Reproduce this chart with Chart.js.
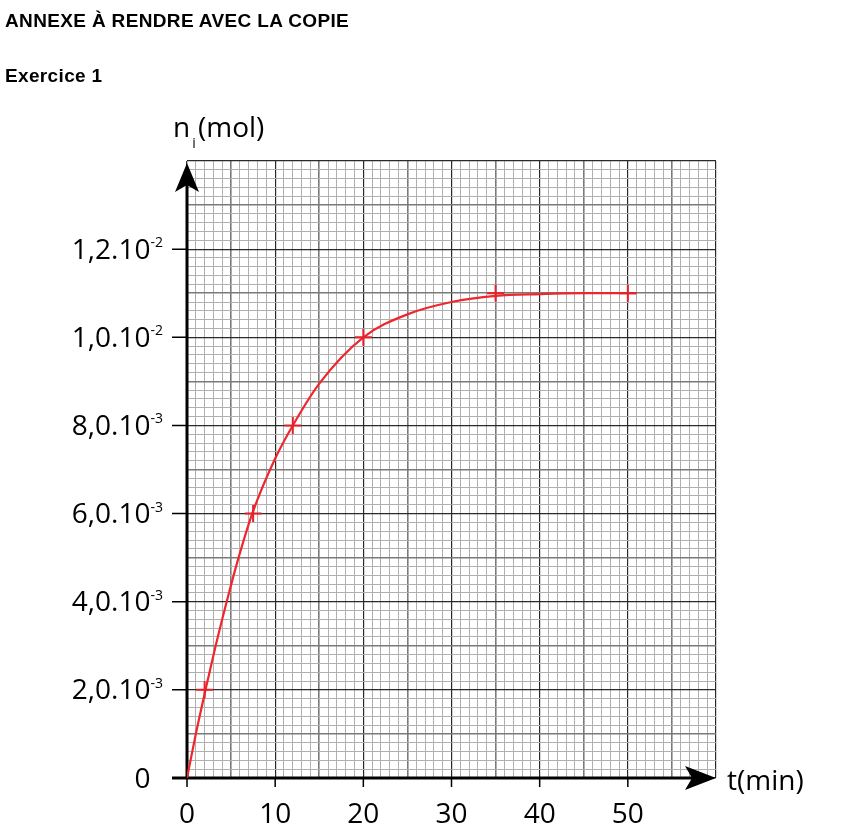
<!DOCTYPE html>
<html lang="fr">
<head>
<meta charset="utf-8">
<title>Annexe - Exercice 1</title>
<script src="https://cdn.jsdelivr.net/npm/chart.js@4.4.1/dist/chart.umd.min.js"></script>
<style>
  html, body { margin: 0; padding: 0; background: #fff; }
  #page { position: relative; width: 848px; height: 838px; overflow: hidden; background: #fff; }
  canvas { position: absolute; left: 0; top: 0; }
  .titre {
    position: absolute; left: 5px; color: #000; white-space: nowrap;
    font-family: "Liberation Sans", Arial, sans-serif; font-weight: bold;
    font-size: 19px; line-height: 19px; letter-spacing: 0.35px;
  }
</style>
</head>
<body>
<div id="page">
  <canvas id="graphe" width="848" height="838"></canvas>
  <div class="titre" style="top:11px">ANNEXE À RENDRE AVEC LA COPIE</div>
  <div class="titre" style="top:66px">Exercice 1</div>
</div>
<script>
// Points de mesure (les croix)
const tMesures = [2, 7.5, 12, 20, 35, 50];
const nMesures = [0.002, 0.006, 0.008, 0.010, 0.011, 0.011];

// Courbe tracée à la main
const tCourbe = [0, 1.0, 2.1, 3.25, 4.5, 5.85, 7.4, 10, 12, 15, 20, 25, 30, 35, 40, 45, 51];
const nCourbe = [0, 0.0010, 0.0020, 0.0030, 0.0040, 0.0050, 0.0060, 0.00725, 0.0080, 0.00895,
                 0.0100, 0.01052, 0.0108, 0.01094, 0.01098, 0.0110, 0.0110];

// Graduations des axes
const xGraduations = [0, 10, 20, 30, 40, 50];
const yGraduations = [0, 0.002, 0.004, 0.006, 0.008, 0.010, 0.012];
const yMantisses = ['0', '2,0.10', '4,0.10', '6,0.10', '8,0.10', '1,0.10', '1,2.10'];
const yExposants = ['', '-3', '-3', '-3', '-3', '-2', '-2'];

const POLICE = '"Open Sans", "Noto Sans", sans-serif';

// couleur du papier millimétré : trait fin / moyen (5) / fort (10)
function couleurGrille(i) {
  if (i % 10 === 0) return '#2a2a2a';
  if (i % 5 === 0) return '#7a7a7a';
  return '#b0b0b0';
}
function epaisseurGrille(i) {
  if (i % 10 === 0) return 1.2;
  if (i % 5 === 0) return 1.6;
  return 1;
}
const indiceX = ctx => Math.round(ctx.tick.value);
const indiceY = ctx => Math.round(ctx.tick.value / 0.0002);

// Axes avec flèches, petites graduations et libellés
const axesPlugin = {
  id: 'axes',
  beforeDatasetsDraw(chart) {
    const { ctx, scales: { x, y } } = chart;
    const x0 = x.getPixelForValue(0), y0 = y.getPixelForValue(0);
    const xFin = x.getPixelForValue(60), yFin = y.getPixelForValue(0.014);
    ctx.save();
    ctx.strokeStyle = '#000';
    ctx.fillStyle = '#000';

    // graduations
    ctx.lineWidth = 1.5;
    ctx.beginPath();
    yGraduations.forEach(v => {
      const py = y.getPixelForValue(v);
      ctx.moveTo(x0 - 15, py);
      ctx.lineTo(x0, py);
    });
    xGraduations.forEach(v => {
      const px = x.getPixelForValue(v);
      ctx.moveTo(px, y0);
      ctx.lineTo(px, y0 + 9);
    });
    ctx.stroke();

    // axe vertical
    ctx.lineWidth = 3;
    ctx.beginPath();
    ctx.moveTo(x0, y0 + 1);
    ctx.lineTo(x0, yFin + 20);
    ctx.stroke();
    ctx.beginPath();
    ctx.moveTo(x0, yFin + 2);
    ctx.lineTo(x0 - 12, yFin + 31);
    ctx.lineTo(x0, yFin + 24);
    ctx.lineTo(x0 + 12, yFin + 31);
    ctx.closePath();
    ctx.fill();

    // axe horizontal
    ctx.beginPath();
    ctx.moveTo(x0 - 15, y0);
    ctx.lineTo(xFin - 20, y0);
    ctx.stroke();
    ctx.beginPath();
    ctx.moveTo(xFin, y0);
    ctx.lineTo(xFin - 31, y0 - 12);
    ctx.lineTo(xFin - 24, y0);
    ctx.lineTo(xFin - 31, y0 + 12);
    ctx.closePath();
    ctx.fill();
    ctx.restore();
  },
  afterDraw(chart) {
    const { ctx, scales: { x, y } } = chart;
    const x0 = x.getPixelForValue(0), y0 = y.getPixelForValue(0);
    const xFin = x.getPixelForValue(60), yFin = y.getPixelForValue(0.014);
    ctx.save();
    ctx.fillStyle = '#000';
    ctx.textBaseline = 'alphabetic';

    // libellés de l'axe vertical (avec puissances de 10)
    const bord = x0 - 24;
    yGraduations.forEach((v, i) => {
      const py = y.getPixelForValue(v);
      ctx.font = '14px ' + POLICE;
      const wExp = ctx.measureText(yExposants[i] || '-2').width;
      if (yExposants[i]) {
        ctx.textAlign = 'left';
        ctx.fillText(yExposants[i], bord - wExp, py - 2);
      }
      ctx.font = '28px ' + POLICE;
      ctx.textAlign = 'right';
      ctx.fillText(yMantisses[i], bord - wExp, py + 9.5);
    });

    // libellés de l'axe horizontal
    ctx.font = '28px ' + POLICE;
    ctx.textAlign = 'center';
    xGraduations.forEach(v => {
      ctx.fillText(String(v), x.getPixelForValue(v), y0 + 45);
    });

    // titres des axes
    ctx.textAlign = 'left';
    ctx.fillText('t(min)', xFin + 11, y0 + 12);
    ctx.fillText('n', x0 - 14, yFin - 24);
    const wn = ctx.measureText('n').width;
    ctx.font = '14px ' + POLICE;
    ctx.fillText('i', x0 - 14 + wn + 2, yFin - 13);
    ctx.font = '28px ' + POLICE;
    ctx.fillText('(mol)', x0 + 11, yFin - 24);
    ctx.restore();
  }
};

const ctx = document.getElementById('graphe').getContext('2d');
const chart = new Chart(ctx, {
  type: 'line',
  data: {
    datasets: [
      {
        label: 'courbe',
        data: tCourbe.map((t, i) => ({ x: t, y: nCourbe[i] })),
        borderColor: '#f0262e',
        borderWidth: 2.2,
        pointRadius: 0,
        cubicInterpolationMode: 'monotone',
        fill: false,
        order: 2
      },
      {
        label: 'mesures',
        type: 'scatter',
        data: tMesures.map((t, i) => ({ x: t, y: nMesures[i] })),
        pointStyle: 'cross',
        pointRadius: 8.5,
        borderColor: '#e4202a',
        borderWidth: 2,
        order: 1
      }
    ]
  },
  options: {
    responsive: false,
    animation: false,
    devicePixelRatio: 1,
    events: [],
    layout: { padding: { left: 187, right: 848 - 716, top: 161, bottom: 838 - 778 } },
    plugins: { legend: { display: false }, tooltip: { enabled: false } },
    scales: {
      x: {
        type: 'linear', min: 0, max: 60,
        ticks: { stepSize: 1, display: false, autoSkip: false },
        grid: {
          drawTicks: false,
          color: c => couleurGrille(indiceX(c)),
          lineWidth: c => epaisseurGrille(indiceX(c))
        },
        border: { display: false },
        afterFit: s => { s.height = 0; }
      },
      y: {
        type: 'linear', min: 0, max: 0.014,
        ticks: { stepSize: 0.0002, display: false, autoSkip: false },
        grid: {
          drawTicks: false,
          color: c => couleurGrille(indiceY(c)),
          lineWidth: c => epaisseurGrille(indiceY(c))
        },
        border: { display: false },
        afterFit: s => { s.width = 0; }
      }
    }
  },
  plugins: [axesPlugin]
});
</script>
</body>
</html>
